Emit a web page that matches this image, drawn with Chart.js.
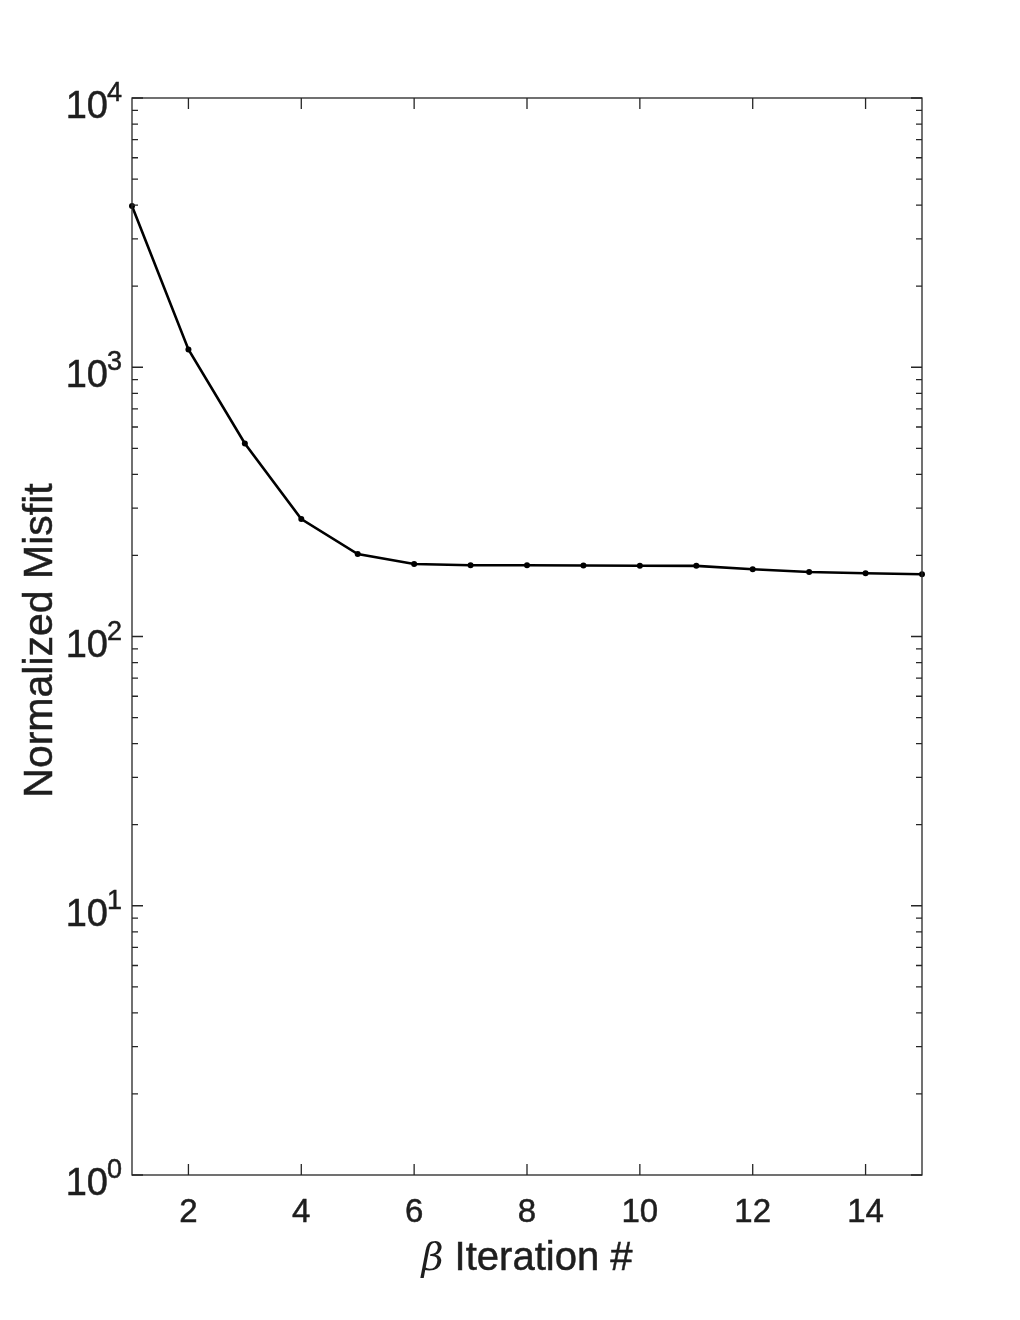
<!DOCTYPE html>
<html>
<head>
<meta charset="utf-8">
<script src="https://cdn.jsdelivr.net/npm/chart.js@4.4.1/dist/chart.umd.min.js"></script>
<style>
  html, body { margin: 0; padding: 0; background: #fff; }
  canvas { display: block; }
</style>
</head>
<body>
<canvas id="misfitChart" width="1020" height="1320"></canvas>
<script>
// beta iteration number vs normalized misfit (log scale)
const iterations = [1, 2, 3, 4, 5, 6, 7, 8, 9, 10, 11, 12, 13, 14, 15];
const misfit = [3970, 1164, 521, 273, 202.5, 185.9, 183.8, 183.8, 183.6, 183.2, 183.0, 177.7, 173.6, 171.7, 170.2];
const xTicks = [2, 4, 6, 8, 10, 12, 14];
const yExponents = [0, 1, 2, 3, 4];

const AXIS = '#262626';
const TEXT = '#1e1e1e';
const FONT = '"Liberation Sans", Arial, Helvetica, sans-serif';

// draw text a bit heavier, like the original rendering
function heavyText(ctx, s, x, y) {
  ctx.fillText(s, x, y);
  ctx.strokeText(s, x, y);
}

// box, inward ticks on all four sides, tick labels and axis titles
const matlabAxes = {
  id: 'matlabAxes',
  afterDraw(chart) {
    const ctx = chart.ctx;
    const a = chart.chartArea;
    const xs = chart.scales.x, ys = chart.scales.y;
    const major = 11, minor = 6;
    ctx.save();
    ctx.strokeStyle = AXIS;
    ctx.lineWidth = 1.3;
    ctx.strokeRect(a.left, a.top, a.right - a.left, a.bottom - a.top);

    ctx.beginPath();
    xTicks.forEach(v => {
      const px = xs.getPixelForValue(v);
      ctx.moveTo(px, a.bottom); ctx.lineTo(px, a.bottom - major);
      ctx.moveTo(px, a.top); ctx.lineTo(px, a.top + major);
    });
    yExponents.forEach((e, i) => {
      const py = ys.getPixelForValue(Math.pow(10, e));
      ctx.moveTo(a.left, py); ctx.lineTo(a.left + major, py);
      ctx.moveTo(a.right, py); ctx.lineTo(a.right - major, py);
      if (i < yExponents.length - 1) {
        for (let k = 2; k <= 9; k++) {
          const pm = ys.getPixelForValue(k * Math.pow(10, e));
          ctx.moveTo(a.left, pm); ctx.lineTo(a.left + minor, pm);
          ctx.moveTo(a.right, pm); ctx.lineTo(a.right - minor, pm);
        }
      }
    });
    ctx.stroke();

    ctx.fillStyle = TEXT;
    ctx.strokeStyle = TEXT;
    ctx.lineWidth = 0.5;
    // x tick labels
    ctx.font = '33px ' + FONT;
    ctx.textAlign = 'center';
    ctx.textBaseline = 'alphabetic';
    xTicks.forEach(v => {
      heavyText(ctx, String(v), xs.getPixelForValue(v), a.bottom + 47);
    });

    // y tick labels 10^n
    yExponents.forEach(e => {
      const py = ys.getPixelForValue(Math.pow(10, e));
      ctx.font = '27px ' + FONT;
      ctx.textAlign = 'left';
      const supW = ctx.measureText(String(e)).width;
      const right = a.left - 10;
      heavyText(ctx, String(e), right - supW, py + 3);
      ctx.font = '38px ' + FONT;
      ctx.textAlign = 'right';
      heavyText(ctx, '10', right - supW + 1, py + 20);
    });

    // x axis title
    const rest = ' Iteration #';
    ctx.font = 'italic 38px "DejaVu Serif", serif';
    const bw = ctx.measureText('\u03B2').width;
    ctx.font = '40px ' + FONT;
    const rw = ctx.measureText(rest).width;
    const cx = (a.left + a.right) / 2;
    const x0 = cx - (bw + rw) / 2;
    ctx.textAlign = 'left';
    ctx.font = 'italic 38px "DejaVu Serif", serif';
    ctx.fillText('\u03B2', x0, a.bottom + 95);
    ctx.font = '40px ' + FONT;
    heavyText(ctx, rest, x0 + bw, a.bottom + 95);

    // y axis title
    ctx.translate(52, (a.top + a.bottom) / 2 + 4);
    ctx.rotate(-Math.PI / 2);
    ctx.textAlign = 'center';
    ctx.font = '41px ' + FONT;
    heavyText(ctx, 'Normalized Misfit', 0, 0);
    ctx.restore();
  }
};

new Chart(document.getElementById('misfitChart'), {
  type: 'line',
  data: {
    datasets: [{
      data: iterations.map((x, i) => ({ x: x, y: misfit[i] })),
      borderColor: '#000',
      backgroundColor: '#000',
      borderWidth: 2.6,
      pointRadius: 3,
      pointBorderWidth: 0,
      tension: 0,
      clip: false
    }]
  },
  options: {
    responsive: false,
    devicePixelRatio: 1,
    animation: false,
    layout: { padding: { left: 132, right: 98, top: 98, bottom: 145 } },
    plugins: { legend: { display: false }, tooltip: { enabled: false } },
    scales: {
      x: { type: 'linear', min: 1, max: 15, display: false },
      y: { type: 'logarithmic', min: 1, max: 10000, display: false }
    }
  },
  plugins: [matlabAxes]
});
</script>
</body>
</html>
